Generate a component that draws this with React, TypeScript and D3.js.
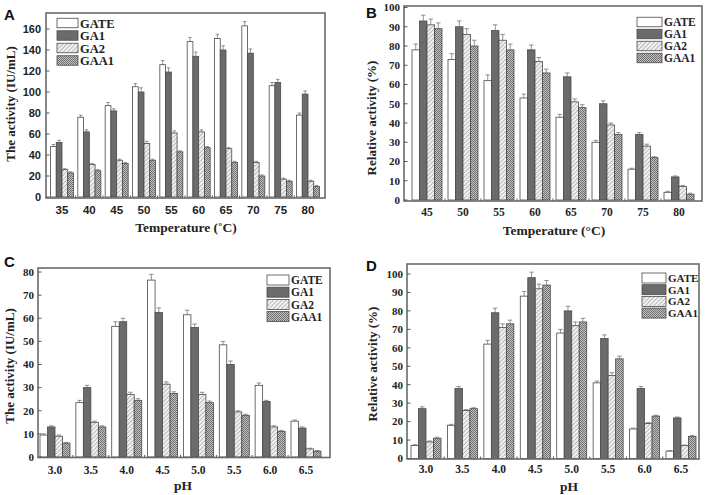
import React from "react";
import * as d3 from "d3";

const seriesNames = ["GATE", "GA1", "GA2", "GAA1"];

// Panel A: activity vs temperature
const tempA = [35, 40, 45, 50, 55, 60, 65, 70, 75, 80];
const A_GATE = [48, 76, 87, 105, 126, 148, 151, 163, 106, 78];
const A_GA1 = [52, 62, 82, 100, 119, 134, 140, 137, 109, 98];
const A_GA2 = [26, 31, 35, 51, 61, 62, 46, 33, 17, 15];
const A_GAA1 = [23, 25, 32, 35, 43, 47, 33, 20, 15, 10];
const A_err_GATE = [2, 2, 3, 3, 4, 4, 4, 4, 3, 2];
const A_err_GA1 = [2, 2, 2, 4, 4, 4, 4, 4, 3, 3];
const A_err_GA2 = [1, 1, 1, 2, 2, 2, 1, 1, 1, 1];
const A_err_GAA1 = [1, 1, 1, 1, 1, 1, 1, 1, 1, 1];
const A_yTicks = [0, 20, 40, 60, 80, 100, 120, 140, 160];

// Panel B: relative activity vs temperature
const tempB = [45, 50, 55, 60, 65, 70, 75, 80];
const B_GATE = [78, 73, 62, 53, 43, 30, 16, 4];
const B_GA1 = [93, 90, 88, 78, 64, 50, 34, 12];
const B_GA2 = [91, 86, 83, 72, 51, 39, 28, 7];
const B_GAA1 = [89, 80, 78, 66, 48, 34, 22, 3];
const B_err_GATE = [3, 3, 3, 2, 1.5, 1, 0.5, 0.5];
const B_err_GA1 = [3, 3, 3, 2.5, 2, 1.5, 1, 0.5];
const B_err_GA2 = [3, 3, 3, 2, 1.5, 1, 1, 0.5];
const B_err_GAA1 = [3, 3, 3, 2, 1.5, 1, 0.5, 0.5];
const B_yTicks = [0, 10, 20, 30, 40, 50, 60, 70, 80, 90, 100];

// Panel C: activity vs pH
const phC = [3.0, 3.5, 4.0, 4.5, 5.0, 5.5, 6.0, 6.5];
const C_GATE = [9.5, 23.5, 56.5, 76.5, 61.5, 48.5, 31, 15.5];
const C_GA1 = [13, 30, 58.5, 62.5, 56, 40, 24, 12.5];
const C_GA2 = [9, 15, 27, 31.5, 27, 19.5, 13, 3.5];
const C_GAA1 = [6, 13, 24.5, 27.5, 23.5, 18, 11, 2.5];
const C_err_GATE = [0.5, 1, 2, 2.5, 2, 1.5, 1, 0.5];
const C_err_GA1 = [0.5, 1, 1.5, 2, 1.5, 1.5, 0.5, 0.5];
const C_err_GA2 = [0.5, 0.5, 1, 1, 1, 0.5, 0.5, 0.3];
const C_err_GAA1 = [0.3, 0.5, 0.7, 0.7, 0.7, 0.5, 0.5, 0.3];
const C_yTicks = [0, 10, 20, 30, 40, 50, 60, 70, 80];

// Panel D: relative activity vs pH
const phD = [3.0, 3.5, 4.0, 4.5, 5.0, 5.5, 6.0, 6.5];
const D_GATE = [7, 18, 62, 88, 68, 41, 16, 4];
const D_GA1 = [27, 38, 79, 98, 80, 65, 38, 22];
const D_GA2 = [9, 26, 71, 92, 72, 45, 19, 7];
const D_GAA1 = [11, 27, 73, 94, 74, 54, 23, 12];
const D_err_GATE = [0.5, 0.5, 2, 2.5, 2, 1, 0.5, 0.3];
const D_err_GA1 = [1, 1, 2.5, 3, 2.5, 2, 1, 0.5];
const D_err_GA2 = [0.5, 0.5, 2, 2.5, 2, 1.5, 0.5, 0.3];
const D_err_GAA1 = [0.5, 0.5, 2, 2.5, 2, 1.5, 0.5, 0.5];
const D_yTicks = [0, 10, 20, 30, 40, 50, 60, 70, 80, 90, 100];

const SERIF = "'Liberation Serif', 'Times New Roman', serif";
const SANS = "'Liberation Sans', Arial, sans-serif";

const fills = ["#ffffff", "#6b6b6b", "url(#hatch)", "url(#check)"];

type PanelCfg = {
  letter: string;
  letterPos: [number, number];
  cats: number[];
  catFmt: (v: number) => string;
  series: number[][];
  errs: number[][];
  yTicks: number[];
  frame: { x0: number; x1: number; y0: number; y1: number };
  xDom: [number, number];
  xRange: [number, number];
  yDom: [number, number];
  yRange: [number, number];
  groupW: number;
  tickFont: string;
  yTitle: string;
  yTitlePos: [number, number];
  xTitle: string;
  xTitlePos: [number, number];
  xLabelY: number;
  yLabelX: number;
  legend: { x: number; y: number; w: number; h: number; step: number; fs: number };
};

function Panel({ c }: { c: PanelCfg }) {
  const x = d3.scaleLinear().domain(c.xDom).range(c.xRange);
  const y = d3.scaleLinear().domain(c.yDom).range(c.yRange);
  const inner = d3
    .scaleBand<number>()
    .domain(d3.range(seriesNames.length))
    .range([-c.groupW / 2, c.groupW / 2])
    .padding(0);
  const bw = inner.bandwidth();
  const { x0, x1, y0, y1 } = c.frame;
  const step = c.cats.length > 1 ? x(c.cats[1]) - x(c.cats[0]) : 30;
  return (
    <g>
      <text x={c.letterPos[0]} y={c.letterPos[1]} fontFamily={SANS} fontWeight="bold" fontSize={15} fill="#111">
        {c.letter}
      </text>
      {/* bars */}
      {c.cats.map((cat, i) => (
        <g key={i}>
          {c.series.map((s, k) => {
            const bx = x(cat) + (inner(k) as number);
            const top = y(s[i]);
            const base = y(0);
            const e = c.errs[k][i];
            const cx = bx + bw / 2;
            return (
              <g key={k}>
                <rect x={bx} y={top} width={bw} height={base - top} fill={fills[k]} stroke="#4a4a4a" strokeWidth={0.8} />
                <line x1={cx} x2={cx} y1={y(s[i] + e)} y2={top} stroke="#666" strokeWidth={0.7} />
                <line x1={cx - bw * 0.3} x2={cx + bw * 0.3} y1={y(s[i] + e)} y2={y(s[i] + e)} stroke="#666" strokeWidth={0.7} />
              </g>
            );
          })}
        </g>
      ))}
      {/* frame */}
      <rect x={x0} y={y0} width={x1 - x0} height={y1 - y0} fill="none" stroke="#6a6a6a" strokeWidth={1.6} />
      {/* y ticks */}
      {c.yTicks.map((t) => (
        <g key={t}>
          <line x1={x0} x2={x0 + 3.5} y1={y(t)} y2={y(t)} stroke="#555" strokeWidth={1} />
          <text x={c.yLabelX} y={y(t)} dy="0.35em" textAnchor="end" fontFamily={c.tickFont} fontWeight="bold" fontSize={11} fill="#222">
            {t}
          </text>
        </g>
      ))}
      {/* x minor ticks between groups and labels */}
      {c.cats.map((cat, i) => (
        <g key={i}>
          {i < c.cats.length - 1 && (
            <line x1={x(cat) + step / 2} x2={x(cat) + step / 2} y1={y1} y2={y1 - 2.5} stroke="#555" strokeWidth={1} />
          )}
          <text x={x(cat)} y={c.xLabelY} textAnchor="middle" fontFamily={c.tickFont} fontWeight="bold" fontSize={11.5} fill="#222">
            {c.catFmt(cat)}
          </text>
        </g>
      ))}
      {/* titles */}
      <text
        transform={`translate(${c.yTitlePos[0]},${c.yTitlePos[1]}) rotate(-90)`}
        textAnchor="middle"
        fontFamily={SERIF}
        fontWeight="bold"
        fontSize={13}
        fill="#222"
      >
        {c.yTitle}
      </text>
      <text x={c.xTitlePos[0]} y={c.xTitlePos[1]} textAnchor="middle" fontFamily={SERIF} fontWeight="bold" fontSize={13.5} fill="#222">
        {c.xTitle}
      </text>
      {/* legend */}
      {seriesNames.map((n, k) => {
        const ly = c.legend.y + k * c.legend.step;
        return (
          <g key={n}>
            <rect x={c.legend.x} y={ly - c.legend.h / 2} width={c.legend.w} height={c.legend.h} fill={fills[k]} stroke="#4a4a4a" strokeWidth={0.8} />
            <text x={c.legend.x + c.legend.w + 2} y={ly} dy="0.36em" fontFamily={SERIF} fontWeight="bold" fontSize={c.legend.fs} fill="#222">
              {n}
            </text>
          </g>
        );
      })}
    </g>
  );
}

const fmtInt = (v: number) => d3.format("d")(v);
const fmt1 = (v: number) => d3.format(".1f")(v);

const panels: PanelCfg[] = [
  {
    letter: "A",
    letterPos: [4, 20],
    cats: tempA,
    catFmt: fmtInt,
    series: [A_GATE, A_GA1, A_GA2, A_GAA1],
    errs: [A_err_GATE, A_err_GA1, A_err_GA2, A_err_GAA1],
    yTicks: A_yTicks,
    frame: { x0: 46, x1: 325, y0: 13, y1: 198 },
    xDom: [35, 80],
    xRange: [62, 308],
    yDom: [0, 160],
    yRange: [197, 29],
    groupW: 23,
    tickFont: SANS,
    yTitle: "The activity (IU/mL)",
    yTitlePos: [15, 104],
    xTitle: "Temperature (\u02daC)",
    xTitlePos: [186, 232],
    xLabelY: 214,
    yLabelX: 41,
    legend: { x: 57, y: 23, w: 21, h: 9.5, step: 12.5, fs: 12.5 },
  },
  {
    letter: "B",
    letterPos: [366, 18],
    cats: tempB,
    catFmt: fmtInt,
    series: [B_GATE, B_GA1, B_GA2, B_GAA1],
    errs: [B_err_GATE, B_err_GA1, B_err_GA2, B_err_GAA1],
    yTicks: B_yTicks,
    frame: { x0: 404, x1: 702, y0: 6, y1: 201 },
    xDom: [45, 80],
    xRange: [427, 679],
    yDom: [0, 100],
    yRange: [200, 7.5],
    groupW: 30,
    tickFont: SERIF,
    yTitle: "Relative activity (%)",
    yTitlePos: [376, 118],
    xTitle: "Temperature (\u00b0C)",
    xTitlePos: [554, 235],
    xLabelY: 216,
    yLabelX: 400,
    legend: { x: 637, y: 22, w: 25, h: 9.5, step: 12, fs: 11.5 },
  },
  {
    letter: "C",
    letterPos: [4, 267],
    cats: phC,
    catFmt: fmt1,
    series: [C_GATE, C_GA1, C_GA2, C_GAA1],
    errs: [C_err_GATE, C_err_GA1, C_err_GA2, C_err_GAA1],
    yTicks: C_yTicks,
    frame: { x0: 38, x1: 330, y0: 268, y1: 457.5 },
    xDom: [3.0, 6.5],
    xRange: [55, 306],
    yDom: [0, 80],
    yRange: [457, 272],
    groupW: 30,
    tickFont: SERIF,
    yTitle: "The activity (IU/mL)",
    yTitlePos: [14, 366],
    xTitle: "pH",
    xTitlePos: [183, 490],
    xLabelY: 474,
    yLabelX: 34,
    legend: { x: 267, y: 280, w: 22, h: 10, step: 12.2, fs: 11.5 },
  },
  {
    letter: "D",
    letterPos: [366, 271],
    cats: phD,
    catFmt: fmt1,
    series: [D_GATE, D_GA1, D_GA2, D_GAA1],
    errs: [D_err_GATE, D_err_GA1, D_err_GA2, D_err_GAA1],
    yTicks: D_yTicks,
    frame: { x0: 407, x1: 699, y0: 264, y1: 459 },
    xDom: [3.0, 6.5],
    xRange: [426, 681],
    yDom: [0, 100],
    yRange: [458.5, 274],
    groupW: 30,
    tickFont: SERIF,
    yTitle: "Relative activity (%)",
    yTitlePos: [377, 364],
    xTitle: "pH",
    xTitlePos: [569, 491],
    xLabelY: 473,
    yLabelX: 403,
    legend: { x: 642, y: 278, w: 24, h: 10, step: 11.7, fs: 11 },
  },
];

export default function App() {
  return (
    <svg width={708} height={495} style={{ position: "absolute", left: 0, top: 0, background: "#fff" }}>
      <defs>
        <pattern id="hatch" patternUnits="userSpaceOnUse" width={3} height={3} patternTransform="rotate(45)">
          <rect width={3} height={3} fill="#f2f2f2" />
          <line x1={0} y1={0} x2={0} y2={3} stroke="#8a8a8a" strokeWidth={1.1} />
        </pattern>
        <pattern id="check" patternUnits="userSpaceOnUse" width={2} height={2}>
          <rect width={2} height={2} fill="#c2c2c2" />
          <rect width={1} height={1} fill="#707070" />
          <rect x={1} y={1} width={1} height={1} fill="#707070" />
        </pattern>
      </defs>
      <rect width={708} height={495} fill="#fff" />
      {panels.map((p) => (
        <Panel key={p.letter} c={p} />
      ))}
    </svg>
  );
}
